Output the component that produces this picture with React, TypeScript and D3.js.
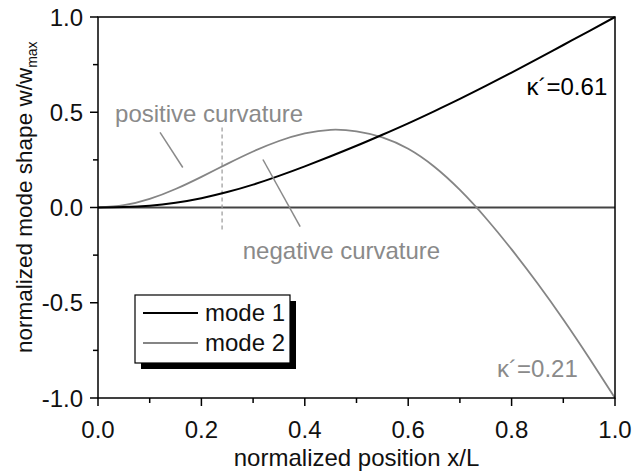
import React from "react";
import * as d3 from "d3";

// mode shapes, x/L steps of 0.05
const xPos = [0, 0.05, 0.1, 0.15, 0.2, 0.25, 0.3, 0.35, 0.4, 0.45, 0.5, 0.55, 0.6, 0.65, 0.7, 0.75, 0.8, 0.85, 0.9, 0.95, 1.0];
const mode1 = [0, 0.002, 0.009, 0.025, 0.049, 0.081, 0.12, 0.166, 0.216, 0.269, 0.324, 0.382, 0.442, 0.505, 0.57, 0.638, 0.708, 0.78, 0.853, 0.926, 1.0];
const mode2 = [0, 0.012, 0.045, 0.097, 0.161, 0.229, 0.294, 0.349, 0.389, 0.408, 0.4, 0.368, 0.308, 0.215, 0.092, -0.055, -0.22, -0.398, -0.588, -0.79, -1.0];

const xMajor = [0, 0.2, 0.4, 0.6, 0.8, 1.0];
const xMinor = [0.1, 0.3, 0.5, 0.7, 0.9];
const yMajor = [-1, -0.5, 0, 0.5, 1];
const yMinor = [-0.75, -0.25, 0.25, 0.75];

const seriesNames = ["mode 1", "mode 2"];
const seriesColors = ["#000000", "#858585"];
const kappaText = ["κ´=0.61", "κ´=0.21"];

const W = 643, H = 474;
const margin = { top: 17, right: 28, bottom: 76, left: 98 };
const font = "'Liberation Sans', Arial, Helvetica, sans-serif";
const grey = "#8a8a8a";

const fmt = d3.formatLocale({ decimal: ".", thousands: ",", grouping: [3], currency: ["", ""], minus: "-" }).format(".1f");

export default function App() {
  const x = d3.scaleLinear().domain([0, 1]).range([margin.left, W - margin.right]);
  const y = d3.scaleLinear().domain([-1, 1]).range([H - margin.bottom, margin.top]);

  const line = d3.line<number>()
    .x((_, i) => x(xPos[i]))
    .y((d) => y(d))
    .curve(d3.curveNatural);

  const x0 = x(0), x1 = x(1), yb = y(-1), yt = y(1);

  // legend box
  const lg = { x: 135, y: 295, w: 155, h: 68 };

  return (
    <div style={{ position: "absolute", left: 0, top: 0 }}>
      <svg width={W} height={H} style={{ display: "block", background: "#fff" }} fontFamily={font}>
        {/* zero line */}
        <line x1={x0} x2={x1} y1={y(0)} y2={y(0)} stroke="#444" strokeWidth={2} />

        {/* dashed marker for inflection */}
        <line x1={x(0.24)} x2={x(0.24)} y1={y(0.42)} y2={y(-0.115)} stroke="#999" strokeWidth={1.2} strokeDasharray="4,3" />

        {/* curves */}
        <path d={line(mode2) || ""} fill="none" stroke={seriesColors[1]} strokeWidth={1.8} />
        <path d={line(mode1) || ""} fill="none" stroke={seriesColors[0]} strokeWidth={2} />

        {/* frame */}
        <rect x={x0} y={yt} width={x1 - x0} height={yb - yt} fill="none" stroke="#000" strokeWidth={1.5} />

        {/* x ticks */}
        {xMajor.map((t) => (
          <g key={"xm" + t}>
            <line x1={x(t)} x2={x(t)} y1={yb} y2={yb + 8} stroke="#000" strokeWidth={1.5} />
            <text x={x(t)} y={438} textAnchor="middle" fontSize={24} fill="#111">{fmt(t)}</text>
          </g>
        ))}
        {xMinor.map((t) => (
          <line key={"xn" + t} x1={x(t)} x2={x(t)} y1={yb} y2={yb + 5} stroke="#000" strokeWidth={1.5} />
        ))}

        {/* y ticks */}
        {yMajor.map((t) => (
          <g key={"ym" + t}>
            <line x1={x0 - 8} x2={x0} y1={y(t)} y2={y(t)} stroke="#000" strokeWidth={1.5} />
            <text x={83} y={y(t)} dy="0.36em" textAnchor="end" fontSize={24} fill="#111">{fmt(t)}</text>
          </g>
        ))}
        {yMinor.map((t) => (
          <line key={"yn" + t} x1={x0 - 5} x2={x0} y1={y(t)} y2={y(t)} stroke="#000" strokeWidth={1.5} />
        ))}

        {/* axis titles */}
        <text x={(x0 + x1) / 2} y={466} textAnchor="middle" fontSize={24} fill="#111">normalized position x/L</text>
        <text transform="translate(32,353) rotate(-90)" fontSize={22.5} fill="#111">
          normalized mode shape w/w
          <tspan fontSize={14} dy={5}>max</tspan>
        </text>

        {/* annotations */}
        <text x={x(0.033)} y={y(0.451)} fontSize={24} fill={grey}>positive curvature</text>
        <line x1={x(0.12)} y1={y(0.394)} x2={x(0.164)} y2={y(0.21)} stroke={grey} strokeWidth={1.5} />
        <text x={x(0.28)} y={y(-0.268)} fontSize={24} fill={grey}>negative curvature</text>
        <line x1={x(0.319)} y1={y(0.252)} x2={x(0.391)} y2={y(-0.1)} stroke={grey} strokeWidth={1.5} />

        <text x={x(0.985)} y={y(0.593)} textAnchor="end" fontSize={24} fill="#000">{kappaText[0]}</text>
        <text x={x(0.928)} y={y(-0.892)} textAnchor="end" fontSize={24} fill={grey}>{kappaText[1]}</text>

        {/* legend */}
        <rect x={lg.x + 6} y={lg.y + 6} width={lg.w} height={lg.h} fill="#000" />
        <rect x={lg.x} y={lg.y} width={lg.w} height={lg.h} fill="#fff" stroke="#000" strokeWidth={1.2} />
        {seriesNames.map((n, i) => (
          <g key={n}>
            <line x1={lg.x + 8} x2={lg.x + 63} y1={lg.y + 18 + i * 30} y2={lg.y + 18 + i * 30} stroke={seriesColors[i]} strokeWidth={2} />
            <text x={lg.x + 70} y={lg.y + 18 + i * 30} dy="0.35em" fontSize={24} fill="#111">{n}</text>
          </g>
        ))}
      </svg>
    </div>
  );
}
